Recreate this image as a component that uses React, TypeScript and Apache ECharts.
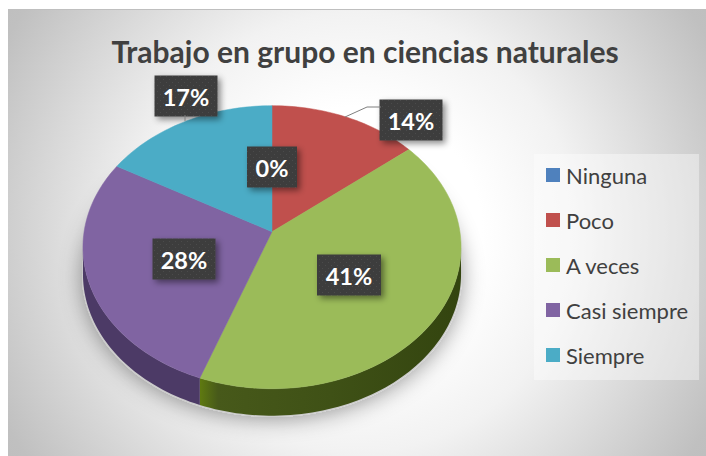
import React, { useEffect, useRef } from "react";
import * as echarts from "echarts";

const categories = ["Ninguna", "Poco", "A veces", "Casi siempre", "Siempre"];
const values = [0, 14.2, 41.4, 27.6, 16.8];
const percentLabels = ["0%", "14%", "41%", "28%", "17%"];
const faceColors = ["#4f81bd", "#c0504d", "#9bbb59", "#8064a2", "#4bacc6"];
const sideColors = ["#2f4d71", "#73302e", "#3f5116", "#4c3a66", "#2d6776"];
const titleText = "Trabajo en grupo en ciencias naturales";

// Perspective pie geometry
const CX = 272, CY = 231.7, R = 187.9, S = 139.8, K = 0.1095, DEPTH = 27;
// Label box centres [x, y, width]
const labelBoxes = [
  [272, 167, 50],
  [411, 120, 63],
  [349, 275, 64],
  [184, 259, 63],
  [186, 96, 63],
];
const BOX_H = 41;

function project(deg: number): [number, number] {
  const t = (deg * Math.PI) / 180;
  const u = Math.sin(t), v = -Math.cos(t);
  const w = 1 - K * v;
  return [CX + (R * u) / w, CY + (S * v) / w];
}
const total = values.reduce((a, b) => a + b, 0);
function startAngle(i: number) {
  return (values.slice(0, i).reduce((a, b) => a + b, 0) / total) * 360;
}
function arcPoints(a: number, b: number) {
  const pts: [number, number][] = [];
  const n = Math.max(1, Math.ceil((b - a) / 1.5));
  for (let j = 0; j <= n; j++) pts.push(project(a + ((b - a) * j) / n));
  return pts;
}
const VIS_A = 96.3, VIS_B = 263.7;

function makeDots() {
  const c = document.createElement("canvas");
  c.width = 6; c.height = 6;
  const g = c.getContext("2d")!;
  g.fillStyle = "#3d3d3d"; g.fillRect(0, 0, 6, 6);
  g.fillStyle = "#4b4b4b"; g.fillRect(1, 1, 1, 1); g.fillRect(4, 4, 1, 1);
  return c;
}

export default function App() {
  const ref = useRef<HTMLDivElement>(null);
  useEffect(() => {
    const chart = echarts.init(ref.current!, undefined, { renderer: "svg" });
    const dots = makeDots();
    const greenSide = new echarts.graphic.LinearGradient(0, 0, 1, 0, [
      { offset: 0, color: "#5f7a10" },
      { offset: 0.07, color: "#47591a" },
      { offset: 0.5, color: "#3f5116" },
      { offset: 1, color: "#33440f" },
    ]);
    const series: any[] = categories.map((name, i) => ({
      type: "custom",
      name,
      coordinateSystem: "none",
      data: [[values[i]]],
      itemStyle: { color: faceColors[i] },
      z: 3,
      silent: true,
      renderItem: () => {
        const a = startAngle(i);
        const b = a + (values[i] / total) * 360;
        const children: any[] = [];
        const sa = Math.max(a, VIS_A), sb = Math.min(b, VIS_B);
        if (sb > sa) {
          const top = arcPoints(sa, sb);
          const bottom = top.map(([x, y]) => [x, y + DEPTH]).reverse();
          children.push({
            type: "polygon",
            shape: { points: [...top, ...bottom] },
            style: { fill: i === 2 ? greenSide : sideColors[i] },
          });
        }
        if (b > a) {
          children.push({
            type: "polygon",
            shape: { points: [[CX, CY], ...arcPoints(a, b)] },
            style: { fill: faceColors[i], stroke: faceColors[i], lineWidth: 0.5 },
          });
        }
        return { type: "group", children };
      },
    }));
    // labels on top, in a series of their own
    series.push({
      type: "custom",
      coordinateSystem: "none",
      data: percentLabels.map((l) => [l]),
      z: 5,
      silent: true,
      renderItem: (p: any) => {
        const [x, y, w] = labelBoxes[p.dataIndex];
        return {
          type: "group",
          children: [
            {
              type: "rect",
              shape: { x: x - w / 2, y: y - BOX_H / 2, width: w, height: BOX_H },
              style: {
                fill: { image: dots, repeat: "repeat" },
                shadowBlur: 6, shadowColor: "rgba(0,0,0,0.45)", shadowOffsetX: 3, shadowOffsetY: 3,
              },
            },
            {
              type: "text",
              x, y: y + 1,
              style: {
                text: percentLabels[p.dataIndex],
                fill: "#ffffff",
                font: "bold 23.5px Lato",
                align: "center",
                verticalAlign: "middle",
              },
            },
          ],
        };
      },
    });
    chart.setOption({
      animation: false,
      title: {
        text: titleText,
        left: 360,
        top: 31,
        textAlign: "center",
        textStyle: { fontFamily: "Lato", fontWeight: "bold", fontSize: 30, color: "#404040" },
      },
      legend: {
        data: categories,
        orient: "vertical",
        left: 534,
        top: 154,
        padding: [10, 11, 14, 12],
        itemWidth: 14,
        itemHeight: 14,
        itemGap: 23,
        icon: "rect",
        backgroundColor: "rgba(255,255,255,0.4)",
        textStyle: { fontFamily: "Lato", fontSize: 22, lineHeight: 22, color: "#404040", padding: [0, 0, 0, 1] },
        selectedMode: false,
      },
      graphic: [
        {
          type: "rect", z: -10, silent: true,
          shape: { x: 8, y: 9, width: 698, height: 447 },
          style: {
            fill: new echarts.graphic.RadialGradient(357, 232, 500, [
              { offset: 0, color: "#ffffff" },
              { offset: 0.25, color: "#ffffff" },
              { offset: 0.44, color: "#f2f2f2" },
              { offset: 0.6, color: "#dcdcdc" },
              { offset: 0.8, color: "#c0c0c0" },
              { offset: 1, color: "#b8b8b8" },
            ], true),
          },
        },
        {
          type: "line", z: -9, silent: true,
          shape: { x1: 8, y1: 9.5, x2: 706, y2: 9.5 },
          style: { stroke: "#bfbfbf", lineWidth: 1 },
        },
        {
          type: "ellipse", z: -5, silent: true,
          shape: { cx: 272, cy: 275, rx: 190, ry: 142 },
          style: { fill: "#cccccc", shadowBlur: 22, shadowColor: "rgba(0,0,0,0.4)", shadowOffsetY: 2 },
        },
        {
          type: "polyline", z: 100, silent: true,
          shape: { points: [[345, 117], [367, 107], [381, 107]] },
          style: { stroke: "#7f7f7f", lineWidth: 1, fill: "none" },
        },
        {
          type: "line", z: 100, silent: true,
          shape: { x1: 185, y1: 115, x2: 185, y2: 121 },
          style: { stroke: "#7f7f7f", lineWidth: 1 },
        },
      ],
      series,
    });
    return () => chart.dispose();
  }, []);
  return <div ref={ref} style={{ width: 706, height: 456, position: "absolute", left: 0, top: 0 }} />;
}
